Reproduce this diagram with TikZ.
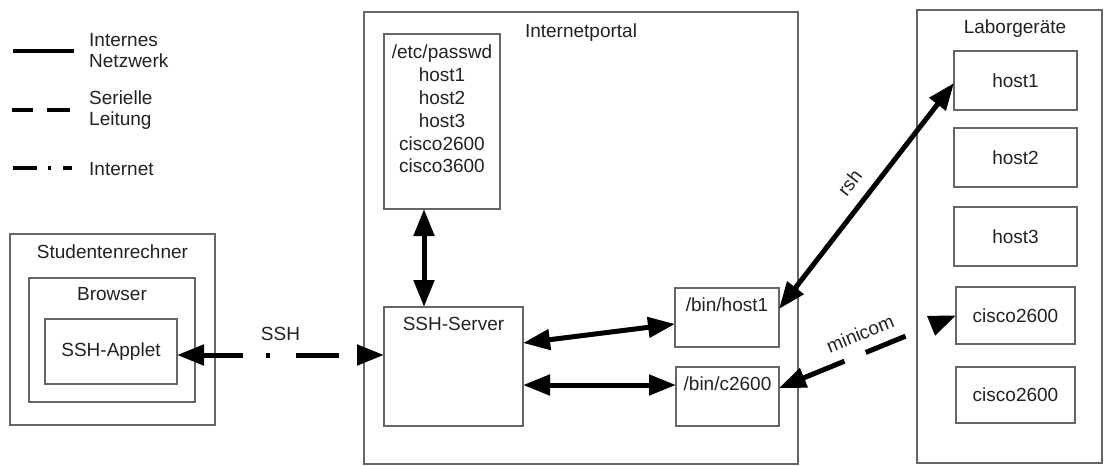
\documentclass[tikz,border=0pt]{standalone}
\usepackage{fontspec}
\setmainfont{Liberation Sans}
\usetikzlibrary{arrows.meta,calc}
\definecolor{boxgray}{HTML}{666666}
\definecolor{txt}{HTML}{222222}
\tikzset{
  box/.style={draw=boxgray, line width=1.3pt, inner sep=0pt, outer sep=0pt, anchor=north west, text=txt},
  sz/.style 2 args={minimum width=#1pt, minimum height=#2pt},
  ttl/.style={anchor=base, inner sep=0pt, text=txt},
  conn/.style={line width=5pt, arrows={Triangle[length=27pt,width=20pt]-Triangle[length=27pt,width=20pt]}},
  lbl/.style={text=txt, inner xsep=0pt, anchor=south},
  legline/.style={line width=4pt},
  leg/.style={anchor=west, align=left, inner sep=0pt, text=txt, font=\fontsize{19}{21}\selectfont},
}
\begin{document}
\begin{tikzpicture}[x=1pt, y=-1pt, font=\fontsize{19}{22.8}\selectfont]
\useasboundingbox (0,0) rectangle (1104,466);

% Legend
\coordinate (l1a) at (13,51);  \coordinate (l1b) at (74,51);
\coordinate (l2a) at (12,110); \coordinate (l2b) at (70,110);
\coordinate (l3a) at (13,168); \coordinate (l3b) at (72,168);
\draw[legline] (l1a) -- (l1b);
\draw[legline, dash pattern=on 21pt off 14pt on 30pt] (l2a) -- (l2b);
\draw[legline, dash pattern=on 24pt off 11pt on 3pt off 12pt on 20pt] (l3a) -- (l3b);
\node[leg] (legnet) at (89,51) {Internes\\Netzwerk};
\node[leg] (legser) at (89,110) {Serielle\\Leitung};
\node[leg] (leginet) at (89,169) {Internet};

% Studentenrechner
\node[box, sz={205}{191}] (student) at (10,234) {};
\node[ttl] (studenttitle) at ([yshift=-24.5pt]student.north) {Studentenrechner};
\node[box, sz={166}{124}] (browser) at (29,278) {};
\node[ttl] (browsertitle) at ([yshift=-22pt]browser.north) {Browser};
\node[box, sz={132}{65}] (applet) at (45,319) {SSH-Applet};

% Internetportal
\node[box, sz={434}{452}] (portal) at (364,12) {};
\node[ttl] (portaltitle) at ([yshift=-25pt]portal.north) {Internetportal};
\node[box, sz={116}{175}] (passwd) at (384,34) {};
\node[anchor=north, align=center, inner sep=0pt, text=txt] (passwdtxt) at ([yshift=-11pt]passwd.north)
  {/etc/passwd\\host1\\host2\\host3\\cisco2600\\cisco3600};
\node[box, sz={139}{119}] (server) at (384,307) {};
\node[ttl] (servertitle) at ([yshift=-23pt]server.north) {SSH-Server};
\node[box, sz={104}{59}] (binh) at (675,288) {};
\node[ttl] (binhtitle) at ([yshift=-23pt]binh.north) {/bin/host1};
\node[box, sz={103}{59}] (binc) at (676,367) {};
\node[ttl] (binctitle) at ([yshift=-23pt]binc.north) {/bin/c2600};

% Laborgeraete
\node[box, sz={185}{453}] (labor) at (917,10) {};
\node[ttl] (labortitle) at (1015,33.5) {Laborgeräte};
\node[box, sz={123}{59}] (lh1) at (954,51) {host1};
\node[box, sz={123}{59}] (lh2) at (954,128) {host2};
\node[box, sz={123}{59}] (lh3) at (954,207) {host3};
\node[box, sz={119}{57}] (lc1) at (956,287) {cisco2600};
\node[box, sz={119}{56}] (lc2) at (956,367) {cisco2600};

% Connectors
\draw[conn] ([xshift=-18pt]passwd.south) -- ([xshift=-18pt]passwd.south |- server.north);
\draw[conn] ([yshift=-36pt]server.north east) -- ([yshift=-36pt]binh.north west);
\draw[conn] ([yshift=-78pt]server.north east) -- ([yshift=-18pt]binc.north west);
\draw[conn] ([yshift=-21pt]binh.north east) -- node[lbl, midway, sloped, inner ysep=12pt] {rsh} ([yshift=-2.5pt]lh1.west);
\draw[conn, dash pattern=on 45pt off 23pt on 43pt off 80pt] ([yshift=-21pt]binc.north east)
  -- node[lbl, midway, sloped, inner ysep=10pt] {minicom} (lc1.west);
\coordinate (sshA) at ([yshift=-3.5pt]applet.east);
\draw[conn, dash pattern=on 40pt off 23pt on 4pt off 26pt on 43pt off 80pt] (sshA)
  -- node[lbl, midway, inner ysep=11.5pt] {SSH} (sshA -| server.west);
\end{tikzpicture}
\end{document}
